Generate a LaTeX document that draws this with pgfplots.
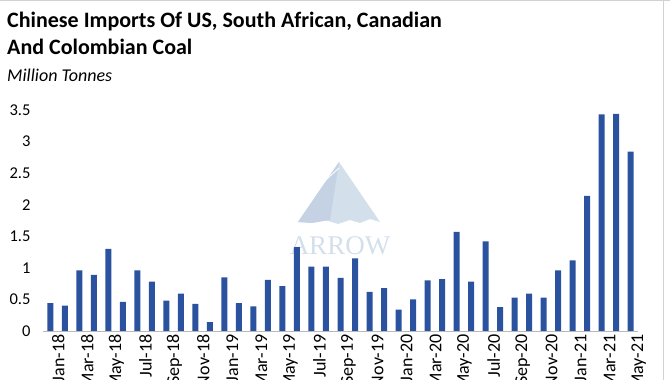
\documentclass[border=0pt]{standalone}
\usepackage{fontspec}
\setmainfont{Carlito}
\newfontfamily\wmfont{Liberation Serif}
\usepackage{pgfplots}
\usepackage{pgfplotstable}
\pgfplotsset{compat=1.18}
\definecolor{barblue}{RGB}{43,82,158}
\definecolor{wm}{RGB}{212,223,236}
\definecolor{wmdark}{RGB}{196,210,228}

\pgfplotstableread{
idx val
0 0.44
1 0.40
2 0.96
3 0.89
4 1.30
5 0.46
6 0.96
7 0.78
8 0.48
9 0.59
10 0.43
11 0.14
12 0.85
13 0.44
14 0.39
15 0.81
16 0.71
17 1.33
18 1.02
19 1.02
20 0.84
21 1.15
22 0.62
23 0.68
24 0.34
25 0.50
26 0.80
27 0.82
28 1.57
29 0.78
30 1.42
31 0.38
32 0.53
33 0.59
34 0.53
35 0.96
36 1.12
37 2.14
38 3.43
39 3.44
40 2.84
}\imports

\begin{document}
\begin{tikzpicture}[x=1pt,y=1pt]
% frame lines
\draw[gray!35, line width=1pt] (0,379.5) -- (670,379.5);
\draw[gray!35, line width=1pt] (663,0) -- (663,380);
% watermark
\fill[wm] (298,158) -- (339,218) -- (380,158) -- (370,161) -- (360,157) -- (350,160) -- (338,156) -- (325,160) -- (312,157) -- cycle;
\fill[wmdark] (298,158) -- (339,218) -- (330,160) -- (312,157) -- cycle;
\draw[white, line width=0.8pt] (305,170) .. controls (320,195) .. (339,212);
\node[text=wm, font=\wmfont\fontsize{27}{27}\selectfont, anchor=base] at (340,125) {ARROW};
% titles
\node[anchor=base west, inner sep=0pt, font=\bfseries\fontsize{22}{22}\selectfont] at (7,352) {Chinese Imports Of US, South African, Canadian};
\node[anchor=base west, inner sep=0pt, font=\bfseries\fontsize{22}{22}\selectfont] at (7,325) {And Colombian Coal};
\node[anchor=base west, inner sep=0pt, font=\itshape\fontsize{18}{18}\selectfont] at (7,298) {Million Tonnes};
\begin{axis}[
  at={(43pt,49pt)}, anchor=south west,
  scale only axis, width=595pt, height=221pt,
  xmin=-0.5, xmax=40.5, ymin=0, ymax=3.5,
  axis x line*=bottom, axis y line*=left,
  x axis line style={draw=gray!55, line width=0.8pt},
  y axis line style={draw=none},
  ytick={0,0.5,...,3.5},
  ytick style={draw=none},
  yticklabel style={font=\fontsize{16.5}{16.5}\selectfont, /pgf/number format/assume math mode=true, xshift=-9pt},
  xtick={0,2,...,40},
  xticklabels={Jan-18,Mar-18,May-18,Jul-18,Sep-18,Nov-18,Jan-19,Mar-19,May-19,Jul-19,Sep-19,Nov-19,Jan-20,Mar-20,May-20,Jul-20,Sep-20,Nov-20,Jan-21,Mar-21,May-21},
  xtick style={draw=none},
  xticklabel style={rotate=90, anchor=east, font=\fontsize{18}{18}\selectfont, yshift=-8pt},
  extra x ticks={-0.5,1.5,...,39.5},
  extra x tick labels={},
  extra x tick style={tick style={draw=gray!55, line width=0.8pt}, major tick length=4pt, tick align=outside},
]
\addplot[ybar, bar width=6pt, fill=barblue, draw=none] table[x=idx, y=val] {\imports};
\end{axis}
\pgfresetboundingbox
\useasboundingbox (0,0) rectangle (670,380);
\end{tikzpicture}
\end{document}
